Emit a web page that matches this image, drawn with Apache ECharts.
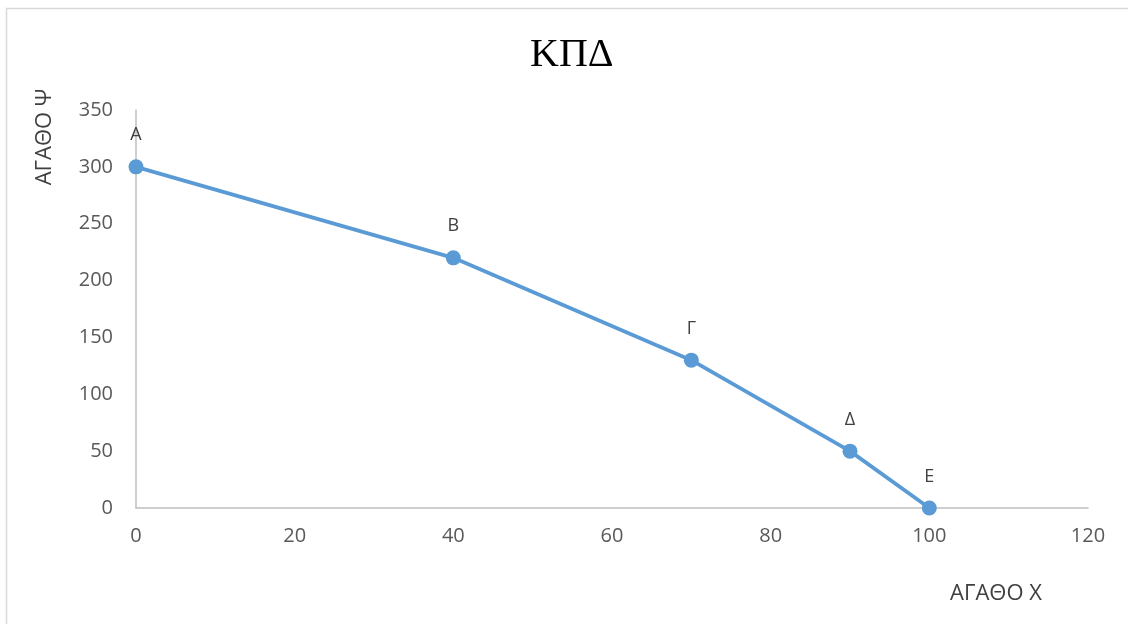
<!DOCTYPE html>
<html>
<head>
<meta charset="utf-8">
<script src="https://cdn.jsdelivr.net/npm/echarts@6/dist/echarts.min.js"></script>
<style>html,body{margin:0;padding:0;background:#fff}#c{width:1128px;height:624px}</style>
</head>
<body>
<div id="c"></div>
<script>
const pointLabels = ['Α', 'Β', 'Γ', 'Δ', 'Ε'];
const xValues = [0, 40, 70, 90, 100];
const yValues = [300, 220, 130, 50, 0];

const chart = echarts.init(document.getElementById('c'), null, {renderer: 'canvas'});
const data = xValues.map((x, i) => ({value: [x, yValues[i]], label: {formatter: pointLabels[i]}}));
const font = '"Open Sans", "Noto Sans", sans-serif';
chart.setOption({
  animation: false,
  backgroundColor: '#fff',
  title: {
    text: 'ΚΠΔ', left: 525, top: 30,
    textStyle: {fontFamily: '"Liberation Serif", "DejaVu Serif", serif', fontSize: 40, fontWeight: 'normal', color: '#000'}
  },
  grid: {left: 136, right: 40, top: 110, bottom: 116},
  xAxis: {
    type: 'value', min: 0, max: 120, interval: 20,
    axisLine: {show: true, lineStyle: {color: '#bfbfbf', width: 1.5}},
    axisTick: {show: false},
    splitLine: {show: false},
    axisLabel: {color: '#595959', fontSize: 20, fontFamily: font, margin: 18}
  },
  yAxis: {
    type: 'value', min: 0, max: 350, interval: 50,
    axisLine: {show: true, lineStyle: {color: '#bfbfbf', width: 1.5}},
    axisTick: {show: false},
    splitLine: {show: false},
    axisLabel: {color: '#595959', fontSize: 20, fontFamily: font, margin: 23}
  },
  series: [{
    type: 'line', data: data,
    symbol: 'circle', symbolSize: 15,
    lineStyle: {color: '#5b9bd5', width: 3.75},
    itemStyle: {color: '#5b9bd5'},
    label: {show: true, position: 'top', distance: 15, color: '#404040', fontSize: 18, fontFamily: font}
  }],
  graphic: [
    {type: 'rect', left: 4, top: 6, shape: {width: 1140, height: 640}, style: {fill: 'none', stroke: '#d9d9d9', lineWidth: 1.5}, silent: true, z: -10},
    {type: 'text', x: 45, y: 137, rotation: Math.PI / 2, style: {text: 'ΑΓΑΘΟ Ψ', fill: '#404040', font: '22px ' + font, align: 'center', verticalAlign: 'middle'}},
    {type: 'text', x: 996, y: 594, style: {text: 'ΑΓΑΘΟ Χ', fill: '#404040', font: '22px ' + font, align: 'center', verticalAlign: 'middle'}}
  ]
});
</script>
</body>
</html>
